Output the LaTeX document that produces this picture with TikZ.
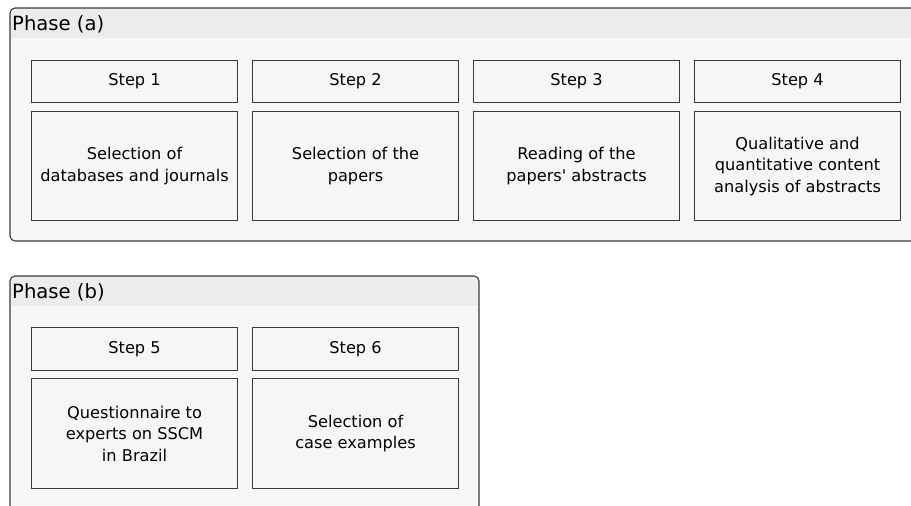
\documentclass[tikz,border=0pt]{standalone}
\usepackage{fontspec}
\setmainfont{DejaVu Sans}
\definecolor{bodyfill}{HTML}{F6F7F8}
\definecolor{headfill}{HTML}{ECECEC}
\definecolor{boxfill}{HTML}{F5F6F8}
\definecolor{edge}{HTML}{3A3A3A}
\begin{document}
\begin{tikzpicture}[x=1pt,y=-1pt,
  phasebox/.style={draw=edge, line width=1.1pt, rounded corners=5pt},
  phasetitle/.style={anchor=west, inner sep=0pt, font=\fontsize{19.6}{22}\selectfont},
  stepbox/.style={draw=edge, line width=1.1pt, fill=boxfill, anchor=north west,
    minimum width=206pt, inner sep=0pt, font=\fontsize{16.2}{21.5}\selectfont},
  contentbox/.style={stepbox, align=center}]
\useasboundingbox (0,0) rectangle (911,506);
\clip (0,0) rectangle (911,506);
% Phase (a)
\begin{scope}
  \clip[rounded corners=5pt] (10,8) rectangle (940,241);
  \fill[bodyfill] (10,8) rectangle (940,241);
  \fill[headfill] (10,8) rectangle (940,38);
\end{scope}
\draw[phasebox] (10,8) rectangle (940,241);
\node[phasetitle] (pa) at (12,24) {Phase (a)};
\node[stepbox, minimum height=42pt] (s1) at (31,60) {Step 1};
\node[stepbox, minimum height=42pt] (s2) at (252,60) {Step 2};
\node[stepbox, minimum height=42pt] (s3) at (473,60) {Step 3};
\node[stepbox, minimum height=42pt] (s4) at (694,60) {Step 4};
\node[contentbox, minimum height=109pt] (c1) at (31,111) {Selection of\\databases and journals};
\node[contentbox, minimum height=109pt] (c2) at (252,111) {Selection of the\\papers};
\node[contentbox, minimum height=109pt] (c3) at (473,111) {Reading of the\\papers\textquotesingle{} abstracts};
\node[contentbox, minimum height=109pt] (c4) at (694,111) {Qualitative and\\quantitative content\\analysis of abstracts};
% Phase (b)
\begin{scope}
  \clip[rounded corners=5pt] (10,276) rectangle (479,540);
  \fill[bodyfill] (10,276) rectangle (479,540);
  \fill[headfill] (10,276) rectangle (479,306);
\end{scope}
\draw[phasebox] (10,276) rectangle (479,540);
\node[phasetitle] (pb) at (12,292) {Phase (b)};
\node[stepbox, minimum height=43pt] (s5) at (31,327) {Step 5};
\node[stepbox, minimum height=43pt] (s6) at (252,327) {Step 6};
\node[contentbox, minimum height=110pt] (c5) at (31,378) {Questionnaire to\\experts on SSCM\\in Brazil};
\node[contentbox, minimum height=110pt] (c6) at (252,378) {Selection of\\case examples};
\end{tikzpicture}
\end{document}
